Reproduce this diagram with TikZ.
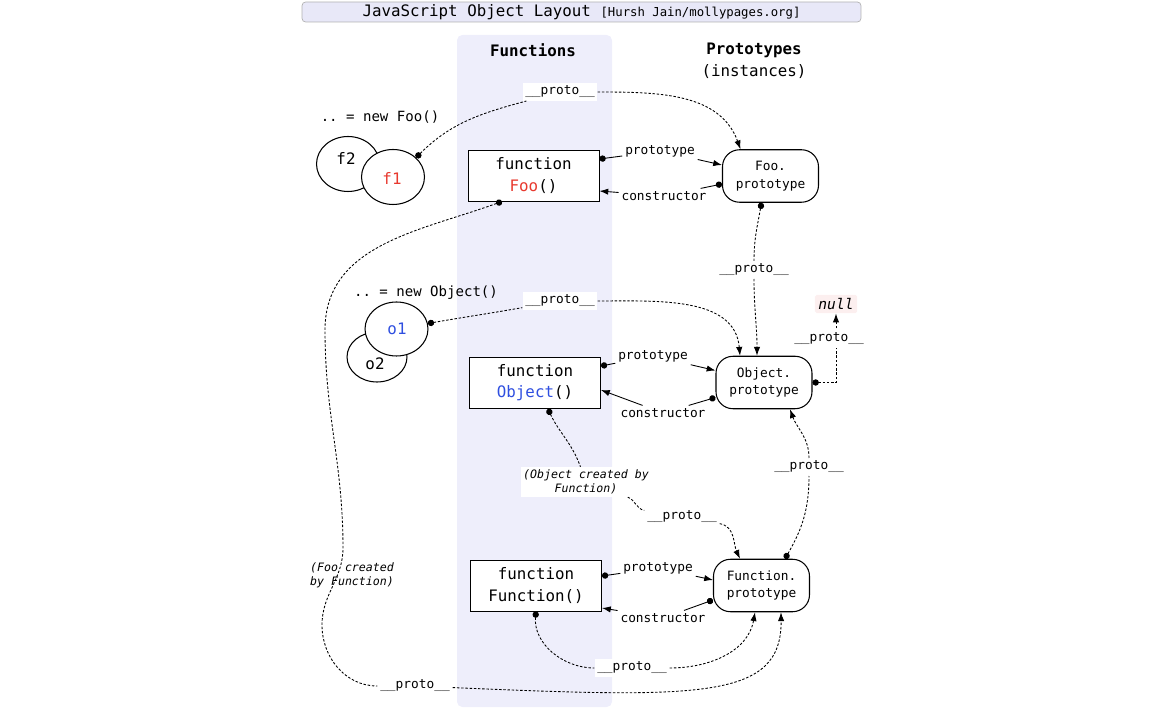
\documentclass[tikz,border=0pt]{standalone}
\usepackage{fontspec}
\setmonofont{DejaVu Sans Mono}
\usetikzlibrary{arrows.meta,shapes.geometric}

\definecolor{bandcol}{HTML}{EEEEFB}
\definecolor{titlecol}{HTML}{E8E8F8}
\definecolor{foored}{HTML}{E8392E}
\definecolor{objblue}{HTML}{2F4FE0}
\definecolor{nullpink}{HTML}{FCEFEF}

\newcommand\bigtt{\ttfamily\fontsize{9}{12}\selectfont}
\newcommand\smalltt{\ttfamily\fontsize{7.3}{10}\selectfont}
\newcommand\notett{\ttfamily\itshape\fontsize{6.6}{8}\selectfont}

\tikzset{
  fnbox/.style={draw, fill=white, line width=0.55pt, minimum width=2.62cm, minimum height=1.02cm, align=center, font=\bigtt},
  protobox/.style={draw, fill=white, line width=0.6pt, rounded corners=0.34cm, minimum width=1.92cm, minimum height=1.05cm, align=center, font=\smalltt},
  objell/.style={draw, ellipse, fill=white, line width=0.6pt, minimum width=1.26cm, minimum height=1.1cm},
  lbl/.style={fill=white, inner sep=1.5pt, font=\smalltt},
  dotline/.style={{Circle[length=3.6pt]}-},
  arrline/.style={-{Latex[length=5pt,width=3.6pt]}},
  dotarr/.style={{Circle[length=3.6pt]}-{Latex[length=5pt,width=3.6pt]}},
  wire/.style={line width=0.5pt},
  protowire/.style={wire, dash pattern=on 1.4pt off 1pt},
}

\begin{document}
\begin{tikzpicture}[x=0.02cm, y=-0.02cm]
\useasboundingbox (0,0) rectangle (1160,709);

% title and column
\node[draw=gray!60, fill=titlecol, rounded corners=2pt, minimum width=11.18cm, minimum height=0.4cm, inner sep=0pt] (title) at (581.5,12)
  {\ttfamily\fontsize{9}{10}\selectfont JavaScript Object Layout {\fontsize{7}{10}\selectfont [Hursh Jain/mollypages.org]}};
\fill[bandcol, rounded corners=3pt] (457,35) rectangle (612,707);
\node[font={\bigtt\bfseries}] (fnhead) at (533,50) {Functions};
\node[font={\ttfamily\fontsize{9}{12.5}\selectfont}, align=center] (prhead) at (754,61) {\textbf{Prototypes}\\(instances)};

% functions
\node[fnbox] (foofn) at (533.5,175.5) {function\\\textcolor{foored}{Foo}()};
\node[fnbox] (objfn) at (535,383) {function\\\textcolor{objblue}{Object}()};
\node[fnbox] (funfn) at (536,585.5) {function\\Function()};

% prototypes
\node[protobox] (fooproto) at (770.5,176) {Foo.\\prototype};
\node[protobox] (objproto) at (764,382.5) {Object.\\prototype};
\node[protobox] (funproto) at (761.5,585.5) {Function.\\prototype};
\node[fill=nullpink, rounded corners=1pt, inner sep=2pt, font={\ttfamily\itshape\fontsize{8.3}{10}\selectfont}] (null) at (836,304) {null};

% instances
\node[font={\ttfamily\fontsize{8}{10}\selectfont}] (newfoo) at (380,117) {.. = new Foo()};
\node[objell] (f2) at (348,164) {};
\node[font=\bigtt] (f2txt) at (346,158) {f2};
\node[objell] (f1) at (393,177) {};
\node[font=\bigtt, text=foored] (f1txt) at (392,178) {f1};

\node[font={\ttfamily\fontsize{8}{10}\selectfont}] (newobj) at (426,293) {.. = new Object()};
\node[objell, minimum width=1.2cm, minimum height=1.0cm] (o2) at (377,357) {};
\node[font=\bigtt] (o2txt) at (375,364) {o2};
\node[objell, minimum width=1.26cm, minimum height=1.08cm] (o1) at (396.5,329) {};
\node[font=\bigtt, text=objblue] (o1txt) at (397,329) {o1};

% labels
\node[lbl] (fooptl) at (660,151) {prototype};
\node[lbl] (fooctl) at (664,196) {constructor};
\node[lbl] (objptl) at (653,356) {prototype};
\node[lbl] (objctl) at (663,413) {constructor};
\node[lbl] (funptl) at (658,568) {prototype};
\node[lbl] (functl) at (663,618) {constructor};

\node[lbl] (pf1) at (560,92) {\_\_proto\_\_};
\node[lbl] (pfoo) at (754,270) {\_\_proto\_\_};
\node[lbl] (po1) at (560,301) {\_\_proto\_\_};
\node[lbl] (pfun) at (809,467) {\_\_proto\_\_};
\node[lbl] (pobj) at (682,517) {\_\_proto\_\_};
\node[lbl] (pfunfn) at (632,668) {\_\_proto\_\_};
\node[lbl] (pfoofn) at (415,686) {\_\_proto\_\_};
\node[lbl, font=\notett, align=center] (objnote) at (586,482) {(Object created by\\Function)};
\node[font=\notett, align=center] (foonote) at (352,575) {(Foo created\\by Function)};

% prototype / constructor
\draw[wire] ([yshift=0.33cm]foofn.east) edge[dotline] (fooptl) (fooptl) edge[arrline] ([yshift=0.22cm]fooproto.west);
\draw[wire] ([yshift=-0.16cm]fooproto.west) edge[dotline] (fooctl) (fooctl) edge[arrline] ([yshift=-0.31cm]foofn.east);
\draw[wire] ([yshift=0.34cm]objfn.east) edge[dotline] (objptl) (objptl) edge[arrline] ([yshift=0.24cm]objproto.west);
\draw[wire] ([yshift=-0.3cm]objproto.west) edge[dotline] (objctl) (objctl) edge[arrline] ([yshift=-0.14cm]objfn.east);
\draw[wire] ([yshift=0.19cm]funfn.east) edge[dotline] (funptl) (funptl) edge[arrline] ([yshift=0.11cm]funproto.west);
\draw[wire] ([yshift=-0.29cm]funproto.west) edge[dotline] (functl) (functl) edge[arrline] ([yshift=-0.45cm]funfn.east);

% __proto__ chains
\draw[protowire] (f1.40) edge[dotline, out=45, in=195] (pf1)
  (pf1) edge[arrline, out=0, in=110] ([xshift=-0.6cm]fooproto.north);
\draw[protowire] ([xshift=-0.18cm]fooproto.south) edge[dotline, out=-100, in=90] (pfoo)
  (pfoo) edge[arrline, out=-90, in=90] ([xshift=-0.14cm]objproto.north);
\draw[protowire] (o1.10) edge[dotline, out=10, in=190] (po1)
  (po1) edge[arrline, out=0, in=95] ([xshift=-0.48cm]objproto.north);
\draw[protowire, dotarr] (objproto.east) -| (null.south);
\node[lbl] (pnull) at (829,339) {\_\_proto\_\_};
\draw[protowire] ([xshift=0.47cm]funproto.north) edge[dotline, out=60, in=-90] (pfun)
  (pfun) edge[arrline, out=90, in=-70] ([xshift=0.52cm]objproto.south);
\draw[protowire] ([xshift=0.26cm]objfn.south) edge[dotline, out=-65, in=110] (objnote)
  (objnote) edge[out=-20, in=170] (pobj)
  (pobj) edge[arrline, out=-10, in=115] ([xshift=-0.43cm]funproto.north);
\draw[protowire] (funfn.south) edge[dotline, out=-95, in=180] (pfunfn)
  (pfunfn) edge[arrline, out=0, in=-100] ([xshift=-0.13cm]funproto.south);
\draw[protowire, dotline] ([xshift=-0.63cm]foofn.south) to[out=-160,in=90] (325,330) to[out=-90,in=90] (343,548)
  to[out=-90,in=90] (322,625) to[out=-90,in=180] (pfoofn);
\draw[protowire, arrline] (pfoofn) .. controls (700,698) and (782,700) .. ([xshift=0.39cm]funproto.south);
\end{tikzpicture}
\end{document}
